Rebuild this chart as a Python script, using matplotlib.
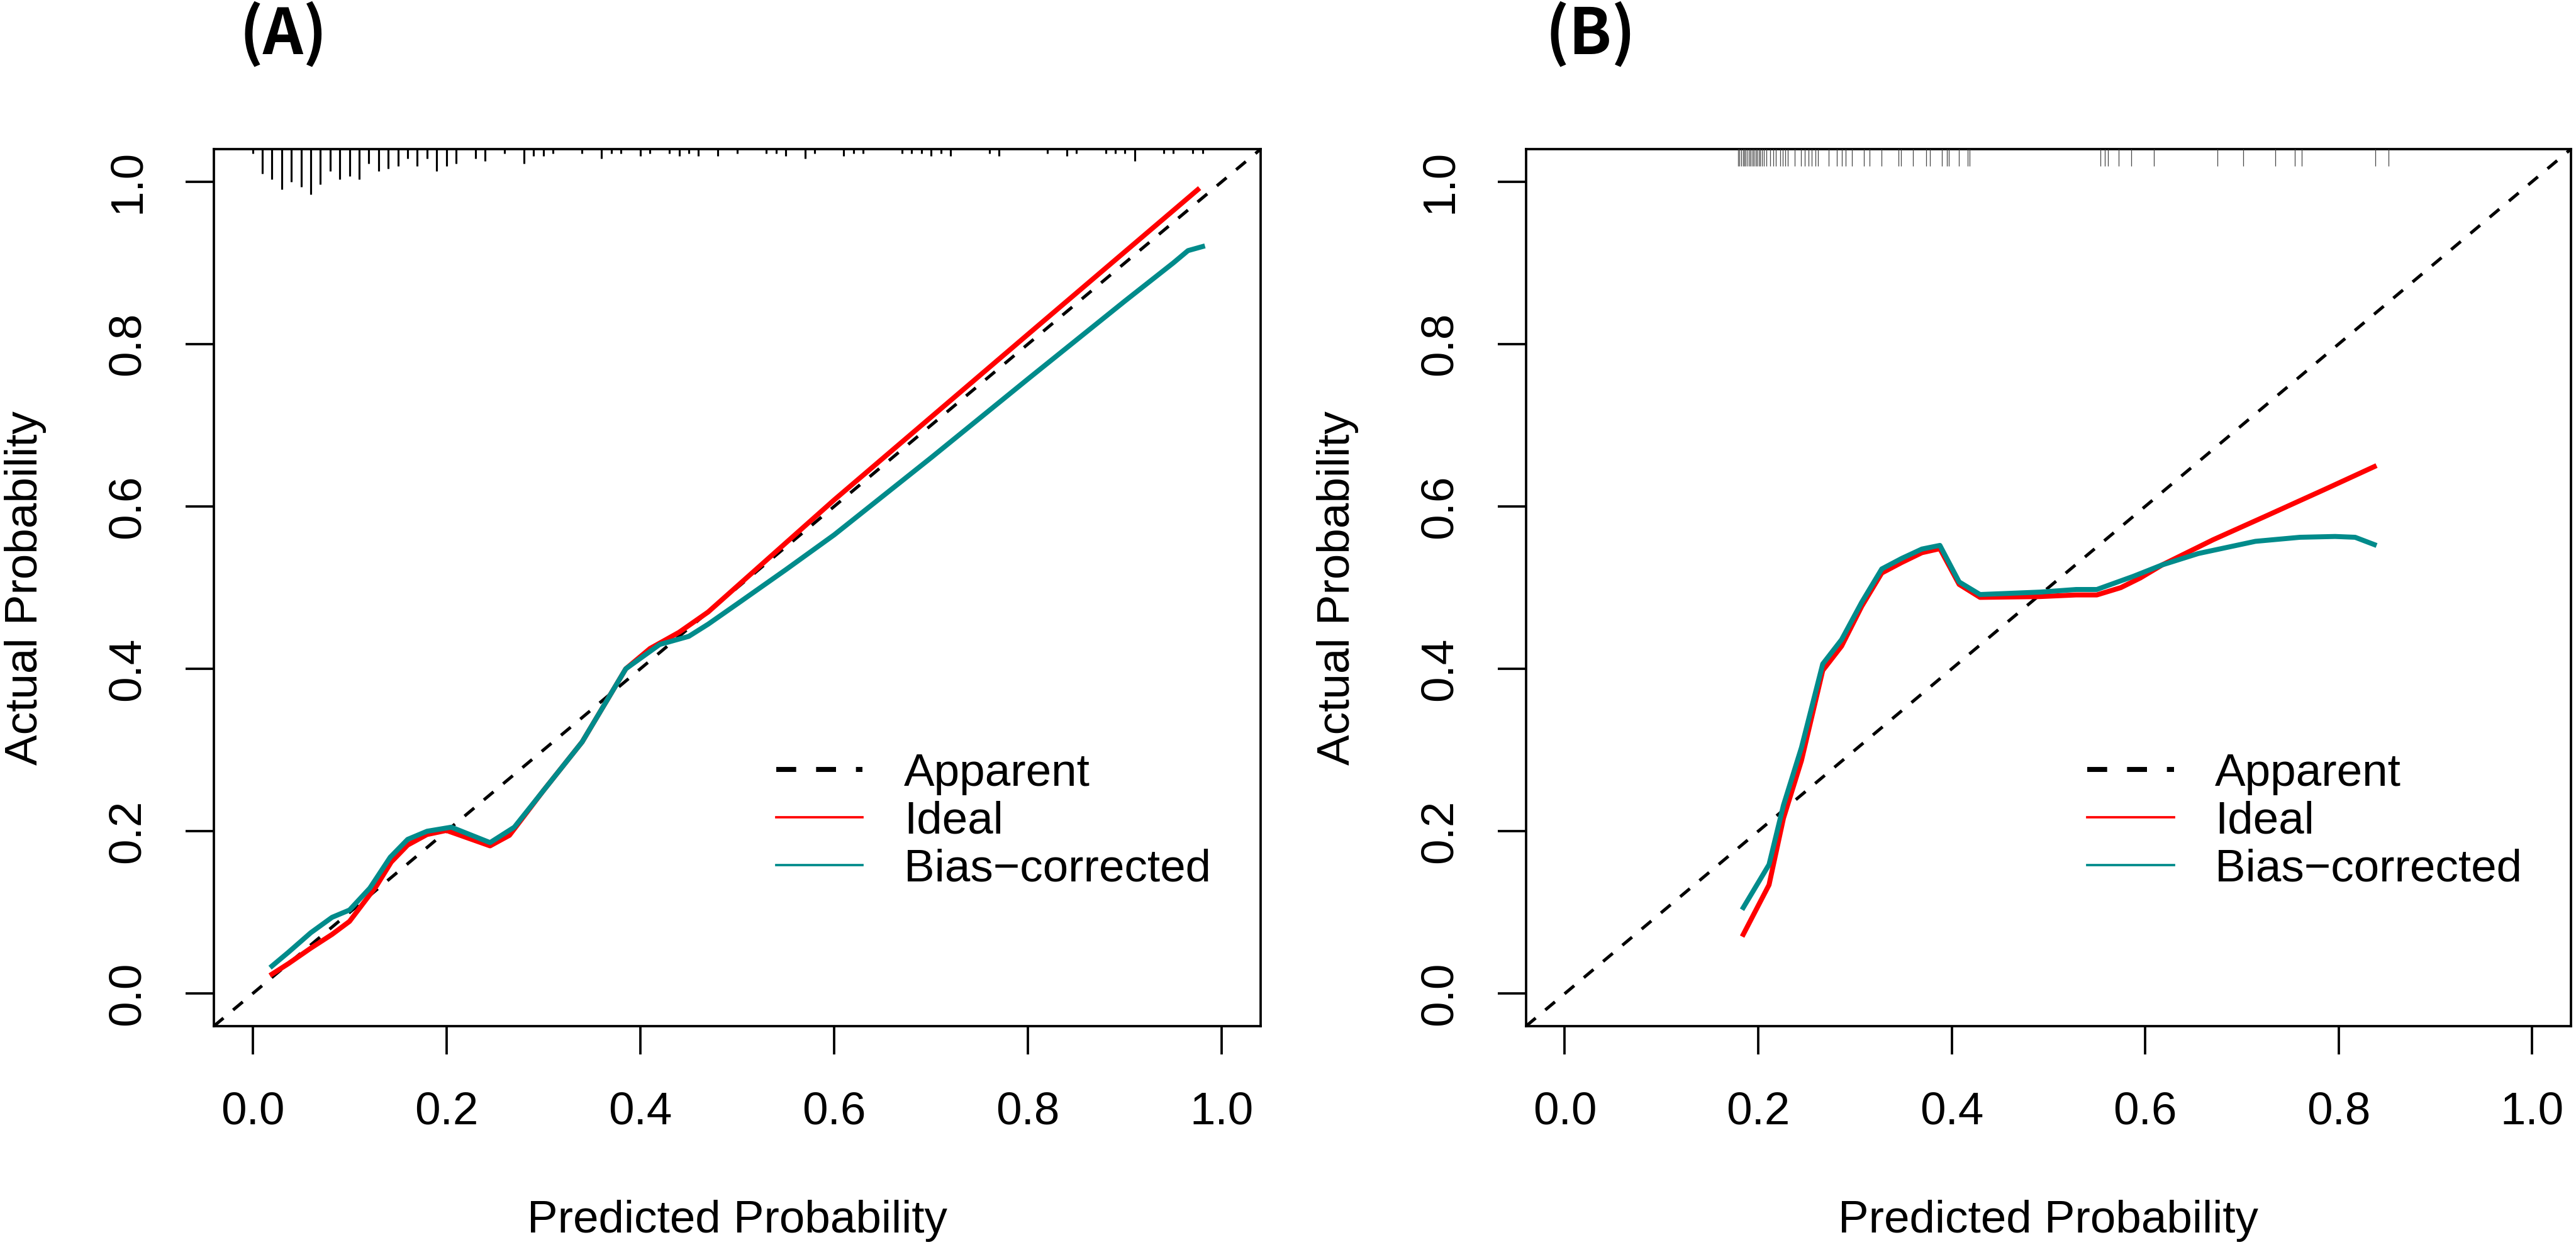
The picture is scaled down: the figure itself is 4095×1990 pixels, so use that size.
import matplotlib
matplotlib.use("Agg")
import matplotlib.pyplot as plt
from matplotlib.lines import Line2D

plt.rcParams['font.family'] = ['Liberation Sans', 'DejaVu Sans']

# ---- panel A: calibration curves ----
A_RED_X = [0.020, 0.037, 0.060, 0.082, 0.100, 0.128, 0.143, 0.160, 0.180, 0.200,
           0.245, 0.265, 0.300, 0.340, 0.385, 0.410, 0.440, 0.470, 0.600, 0.800, 0.975]
A_RED_Y = [0.024, 0.037, 0.056, 0.073, 0.089, 0.133, 0.162, 0.183, 0.196, 0.201,
           0.182, 0.195, 0.250, 0.310, 0.400, 0.425, 0.445, 0.470, 0.608, 0.812, 0.990]
A_TEAL_X = [0.020, 0.037, 0.060, 0.082, 0.100, 0.121, 0.142, 0.160, 0.180, 0.205,
            0.245, 0.270, 0.300, 0.340, 0.385, 0.420, 0.450, 0.470, 0.500, 0.550,
            0.600, 0.700, 0.800, 0.900, 0.950, 0.965, 0.980]
A_TEAL_Y = [0.034, 0.051, 0.075, 0.094, 0.103, 0.130, 0.168, 0.190, 0.200, 0.205,
            0.186, 0.205, 0.250, 0.310, 0.400, 0.430, 0.440, 0.455, 0.480, 0.522,
            0.565, 0.660, 0.757, 0.853, 0.900, 0.915, 0.920]

# panel A rug: predicted-risk bins and their counts
A_RUG_X = [0.00, 0.01, 0.02, 0.03, 0.04, 0.05, 0.06, 0.07, 0.08, 0.09, 0.10, 0.11,
           0.12, 0.13, 0.14, 0.15, 0.16, 0.17, 0.18, 0.19, 0.20, 0.21, 0.23, 0.24,
           0.26, 0.28, 0.29, 0.30, 0.31, 0.34, 0.36, 0.37, 0.38, 0.40, 0.41, 0.43,
           0.44, 0.45, 0.46, 0.48, 0.50, 0.53, 0.54, 0.55, 0.57, 0.58, 0.61, 0.62,
           0.63, 0.67, 0.68, 0.69, 0.70, 0.71, 0.72, 0.76, 0.77, 0.82, 0.84, 0.85,
           0.88, 0.89, 0.90, 0.91, 0.94, 0.95, 0.97, 0.98]
A_RUG_N = [1, 9, 11, 15, 12, 14, 17, 13, 8, 11, 10, 11,
           5, 8, 7, 6, 3, 6, 3, 8, 6, 5, 3, 4,
           1, 5, 2, 2, 1, 1, 3, 1, 1, 2, 1, 1,
           2, 1, 2, 2, 1, 1, 1, 2, 3, 1, 2, 1,
           1, 1, 1, 1, 2, 1, 2, 1, 2, 1, 2, 1,
           1, 1, 1, 4, 1, 1, 1, 1]

# ---- panel B: calibration curves ----
B_RED_X = [0.1846, 0.2112, 0.2261, 0.2447, 0.2667, 0.2862, 0.3070, 0.3277, 0.3484,
           0.3692, 0.3878, 0.4077, 0.4293, 0.4915, 0.5286, 0.5500, 0.5748, 0.5951,
           0.6176, 0.6703, 0.7264, 0.7857, 0.8368]
B_RED_Y = [0.073, 0.134, 0.216, 0.287, 0.398, 0.428, 0.477, 0.518, 0.531,
           0.543, 0.548, 0.504, 0.488, 0.489, 0.491, 0.491, 0.500, 0.512,
           0.528, 0.559, 0.589, 0.621, 0.649]
B_TEAL_X = [0.1846, 0.2112, 0.2261, 0.2447, 0.2667, 0.2862, 0.3070, 0.3277, 0.3484,
            0.3692, 0.3878, 0.4077, 0.4293, 0.4915, 0.5286, 0.5500, 0.5880, 0.6176,
            0.6549, 0.7139, 0.7600, 0.7963, 0.8170, 0.8368]
B_TEAL_Y = [0.106, 0.159, 0.232, 0.303, 0.406, 0.436, 0.482, 0.523, 0.536,
            0.5475, 0.552, 0.507, 0.4915, 0.4945, 0.4977, 0.4977, 0.514, 0.528,
            0.542, 0.557, 0.562, 0.563, 0.562, 0.553]

# panel B rug: individual predicted values
B_RUG_X = [0.1793, 0.1808, 0.1823, 0.1843, 0.1858, 0.1873, 0.1888, 0.1908, 0.1922,
           0.1942, 0.1957, 0.1972, 0.1987, 0.2007, 0.2022, 0.2037, 0.2057, 0.2082,
           0.2121, 0.2156, 0.2181, 0.2231, 0.2256, 0.2281, 0.2306, 0.2380, 0.2445,
           0.2480, 0.2519, 0.2554, 0.2589, 0.2619, 0.2728, 0.2813, 0.2863, 0.2903,
           0.2967, 0.3092, 0.3151, 0.3276, 0.3450, 0.3475, 0.3600, 0.3734, 0.3774,
           0.3898, 0.3948, 0.3973, 0.4073, 0.4163, 0.4183, 0.5540, 0.5580, 0.5615,
           0.5729, 0.5854, 0.6093, 0.6745, 0.7012, 0.7347, 0.7545, 0.7620, 0.8376,
           0.8516]

TICKS = [0.0, 0.2, 0.4, 0.6, 0.8, 1.0]
TICK_LABELS = ["0.0", "0.2", "0.4", "0.6", "0.8", "1.0"]
LEGEND_LABELS = ["Apparent", "Ideal", "Bias\u2212corrected"]

RED = "#FF0000"
TEAL = "#008B8B"
FS = 17.5


def setup_axes(ax):
    ax.set_xlim(-0.04, 1.04)
    ax.set_ylim(-0.04, 1.04)
    ax.set_xticks(TICKS)
    ax.set_xticklabels(TICK_LABELS)
    ax.set_yticks(TICKS)
    ax.set_yticklabels(TICK_LABELS, rotation=90, va="center")
    ax.tick_params(length=10.8, width=0.9, pad=14, labelsize=FS)
    for s in ax.spines.values():
        s.set_linewidth(0.9)
    ax.set_xlabel("Predicted Probability", fontsize=FS)
    ax.set_ylabel("Actual Probability", fontsize=FS)
    ax.xaxis.set_label_coords(0.5, -0.222)
    ax.xaxis.label.set_va("center")
    ax.yaxis.set_label_coords(-0.18, 0.5)
    ax.yaxis.label.set_va("center")
    # diagonal reference
    ax.axline((0, 0), (1, 1), color="black", lw=1.2, linestyle=(0, (4, 4)), zorder=1)


def add_legend(ax):
    handles = [
        Line2D([], [], color="black", lw=1.9, linestyle=(0, (4, 4))),
        Line2D([], [], color=RED, lw=0.9),
        Line2D([], [], color=TEAL, lw=0.9),
    ]
    ax.legend(handles, LEGEND_LABELS, loc="center left", bbox_to_anchor=(0.537, 0.2333),
              frameon=False, fontsize=FS, handlelength=1.89, handletextpad=0.9,
              labelspacing=0.12, borderpad=0, borderaxespad=0)


fig = plt.figure(figsize=(4095 / 300, 1990 / 300), dpi=300)
axA = fig.add_axes([0.0830, 0.1804, 0.4064, 0.7005])
axB = fig.add_axes([0.5924, 0.1804, 0.4056, 0.7005])

# panel A
setup_axes(axA)
axA.plot(A_RED_X, A_RED_Y, color=RED, lw=1.9, zorder=2)
axA.plot(A_TEAL_X, A_TEAL_Y, color=TEAL, lw=1.9, zorder=3)
spike = [(n + 0.6) * 0.00294 for n in A_RUG_N]
axA.vlines(A_RUG_X, [1 - s for s in spike], 1, transform=axA.get_xaxis_transform(),
           color="black", lw=0.75, zorder=4)
add_legend(axA)

# panel B
setup_axes(axB)
axB.plot(B_RED_X, B_RED_Y, color=RED, lw=1.9, zorder=2)
axB.plot(B_TEAL_X, B_TEAL_Y, color=TEAL, lw=1.9, zorder=3)
axB.vlines(B_RUG_X, 1 - 0.0194, 1, transform=axB.get_xaxis_transform(),
           color="#444444", lw=0.3, zorder=4)
add_legend(axB)

title_font = ["Noto Sans CJK SC", "DejaVu Sans"]
fig.text(0.1099, 0.9724, "(A)", fontsize=24, fontweight="bold", family=title_font,
         ha="center", va="center")
fig.text(0.6175, 0.9724, "(B)", fontsize=24, fontweight="bold", family=title_font,
         ha="center", va="center")

fig.savefig("out.png", dpi=300)
